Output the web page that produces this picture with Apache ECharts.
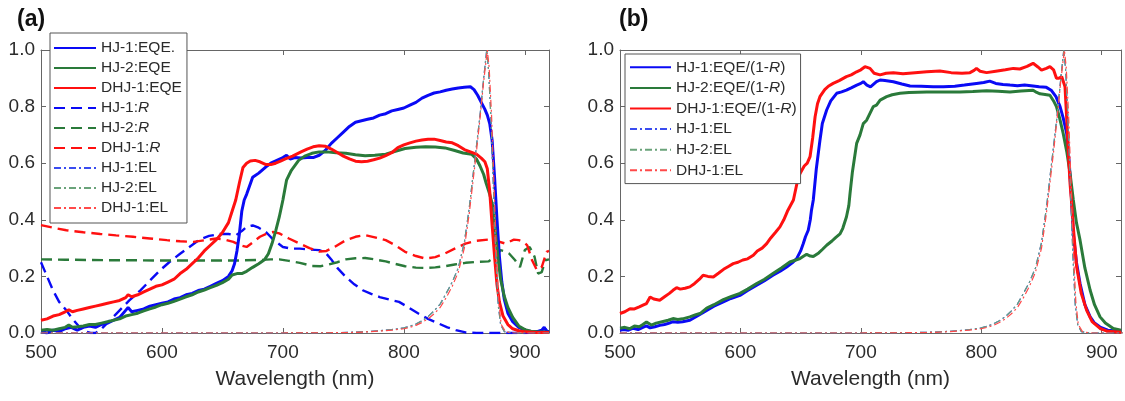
<!DOCTYPE html>
<html>
<head>
<meta charset="utf-8">
<script src="https://cdn.jsdelivr.net/npm/echarts@6/dist/echarts.min.js"></script>
<style>
html,body{margin:0;padding:0;background:#fff;}
#c{width:1125px;height:401px;}
</style>
</head>
<body>
<div id="c"></div>
<script>
// ---------- Tick labels ----------
const xTicks = [500, 600, 700, 800, 900];
const yTicks = [0.0, 0.2, 0.4, 0.6, 0.8, 1.0];

// ---------- Panel (a) ----------
const a_HJ1_EQE = [[500,0.005],[505,0.0],[510,0.01],[515,0.005],[520,0.015],[525,0.02],[530,0.01],[535,0.02],[540,0.025],[545,0.02],[550,0.03],[555,0.035],[560,0.045],[565,0.055],[570,0.08],[572,0.09],[575,0.075],[580,0.08],[585,0.085],[590,0.095],[595,0.10],[600,0.105],[605,0.11],[610,0.12],[615,0.125],[620,0.135],[625,0.14],[630,0.15],[635,0.155],[640,0.165],[645,0.175],[650,0.185],[655,0.20],[658,0.22],[660,0.245],[662,0.29],[664,0.35],[666,0.43],[668,0.47],[670,0.49],[675,0.55],[680,0.565],[686,0.587],[690,0.60],[695,0.61],[700,0.62],[703,0.628],[706,0.615],[710,0.62],[715,0.618],[720,0.62],[725,0.62],[730,0.628],[735,0.645],[740,0.67],[745,0.69],[750,0.71],[755,0.73],[760,0.745],[765,0.75],[770,0.755],[775,0.76],[780,0.77],[785,0.775],[790,0.785],[795,0.79],[800,0.795],[805,0.805],[810,0.815],[815,0.83],[820,0.84],[825,0.848],[830,0.852],[835,0.858],[840,0.862],[845,0.866],[850,0.868],[855,0.87],[858,0.86],[861,0.84],[864,0.815],[867,0.79],[869,0.77],[871,0.74],[873,0.68],[875,0.55],[877,0.40],[879,0.27],[881,0.18],[883,0.12],[886,0.07],[890,0.04],[895,0.02],[900,0.01],[905,0.005],[910,0.005],[914,0.01],[916,0.02],[918,0.005],[920,0.005]];
const a_HJ2_EQE = [[500,0.01],[505,0.012],[510,0.01],[515,0.015],[520,0.02],[523,0.028],[526,0.02],[530,0.022],[535,0.025],[540,0.03],[545,0.03],[550,0.035],[555,0.04],[560,0.045],[565,0.05],[570,0.06],[575,0.065],[580,0.07],[585,0.078],[590,0.085],[595,0.092],[600,0.10],[605,0.105],[610,0.112],[615,0.12],[620,0.128],[625,0.135],[630,0.145],[635,0.152],[640,0.16],[645,0.168],[650,0.178],[655,0.19],[658,0.205],[662,0.21],[666,0.21],[670,0.218],[675,0.232],[680,0.245],[685,0.26],[688,0.28],[691,0.316],[694,0.36],[697,0.41],[700,0.47],[703,0.54],[707,0.575],[713,0.61],[718,0.625],[724,0.635],[730,0.64],[736,0.64],[744,0.637],[752,0.635],[760,0.63],[768,0.626],[776,0.628],[785,0.632],[793,0.642],[801,0.652],[810,0.656],[818,0.658],[826,0.657],[834,0.654],[842,0.645],[849,0.636],[856,0.632],[860,0.615],[863,0.59],[866,0.56],[868,0.53],[871,0.49],[874,0.44],[876,0.34],[878,0.26],[880,0.19],[883,0.13],[886,0.09],[890,0.055],[895,0.025],[900,0.012],[905,0.006],[910,0.004],[920,0.003]];
const a_DHJ1_EQE = [[500,0.045],[505,0.05],[510,0.06],[515,0.065],[520,0.075],[523,0.082],[526,0.075],[530,0.08],[535,0.085],[540,0.09],[545,0.095],[550,0.10],[555,0.105],[560,0.11],[565,0.115],[570,0.125],[572,0.135],[575,0.128],[580,0.135],[585,0.145],[590,0.155],[595,0.165],[600,0.17],[605,0.18],[610,0.19],[615,0.21],[620,0.225],[625,0.245],[630,0.265],[635,0.29],[640,0.31],[645,0.33],[650,0.355],[655,0.39],[658,0.43],[661,0.47],[664,0.53],[667,0.585],[670,0.60],[673,0.608],[677,0.61],[681,0.605],[686,0.595],[690,0.595],[694,0.60],[698,0.607],[702,0.615],[708,0.625],[715,0.64],[720,0.65],[725,0.658],[730,0.662],[735,0.66],[740,0.65],[745,0.638],[750,0.625],[755,0.615],[760,0.607],[765,0.605],[770,0.607],[775,0.612],[780,0.618],[785,0.627],[790,0.637],[795,0.655],[800,0.665],[805,0.672],[810,0.678],[815,0.682],[820,0.685],[825,0.685],[830,0.68],[835,0.675],[840,0.672],[845,0.662],[850,0.648],[855,0.64],[860,0.632],[864,0.618],[867,0.605],[869,0.58],[871,0.50],[873,0.38],[875,0.27],[877,0.17],[879,0.11],[882,0.06],[886,0.03],[890,0.015],[895,0.008],[900,0.004],[910,0.002],[920,0.002]];
const a_HJ1_R = [[500,0.25],[505,0.2],[510,0.15],[515,0.11],[521,0.08],[526,0.05],[532,0.02],[537,0.005],[541,0.0],[545,0.0],[549,0.01],[557,0.045],[565,0.08],[573,0.115],[582,0.15],[590,0.185],[598,0.22],[606,0.25],[615,0.28],[623,0.305],[631,0.33],[639,0.343],[648,0.35],[655,0.35],[661,0.345],[666,0.36],[670,0.375],[675,0.38],[680,0.372],[686,0.357],[692,0.33],[700,0.304],[707,0.298],[714,0.298],[722,0.295],[730,0.293],[735,0.285],[740,0.26],[745,0.23],[752,0.198],[759,0.172],[766,0.151],[773,0.138],[780,0.127],[788,0.118],[796,0.11],[804,0.09],[812,0.069],[820,0.05],[829,0.033],[836,0.02],[843,0.01],[851,0.002],[860,0.0],[880,0.0],[900,0.0],[910,0.002],[914,0.01],[917,0.015],[920,0.0]];
const a_HJ2_R = [[500,0.26],[520,0.259],[540,0.258],[560,0.257],[580,0.257],[600,0.256],[620,0.256],[640,0.256],[660,0.256],[680,0.258],[690,0.26],[697,0.26],[705,0.255],[714,0.248],[724,0.237],[731,0.236],[738,0.242],[745,0.25],[752,0.26],[760,0.264],[768,0.265],[776,0.26],[785,0.253],[793,0.244],[801,0.236],[810,0.231],[818,0.23],[826,0.232],[834,0.236],[842,0.242],[851,0.248],[860,0.251],[870,0.253],[876,0.27],[880,0.293],[884,0.288],[887,0.281],[892,0.257],[896,0.233],[900,0.293],[904,0.304],[908,0.27],[911,0.21],[914,0.215],[917,0.257],[920,0.26]];
const a_DHJ1_R = [[500,0.381],[510,0.372],[521,0.363],[535,0.356],[549,0.35],[562,0.345],[576,0.34],[590,0.334],[604,0.328],[615,0.324],[626,0.322],[636,0.328],[645,0.334],[652,0.33],[659,0.322],[665,0.31],[670,0.304],[675,0.32],[681,0.34],[687,0.352],[692,0.357],[697,0.352],[705,0.334],[714,0.316],[722,0.3],[730,0.288],[736,0.29],[743,0.305],[752,0.328],[760,0.34],[768,0.346],[776,0.338],[785,0.328],[793,0.31],[801,0.287],[810,0.272],[818,0.263],[826,0.268],[834,0.281],[842,0.298],[851,0.316],[860,0.326],[870,0.33],[877,0.325],[884,0.316],[887,0.322],[891,0.33],[895,0.328],[899,0.322],[902,0.31],[906,0.257],[910,0.222],[914,0.233],[918,0.287],[920,0.29]];

// ---------- Electroluminescence (shared by both panels) ----------
const EL_HJ1 = [[500,0],[700,0],[740,0.001],[760,0.003],[770,0.005],[780,0.008],[790,0.012],[800,0.018],[805,0.024],[810,0.032],[815,0.043],[820,0.058],[825,0.078],[830,0.102],[835,0.14],[840,0.18],[845,0.23],[850,0.32],[854,0.44],[857,0.55],[860,0.66],[863,0.77],[866,0.9],[868.5,1.0],[870,0.93],[872,0.76],[874,0.52],[876,0.28],[878,0.1],[880,0.03],[883,0.005],[890,0],[920,0]];
const EL_HJ2 = [[500,0],[700,0],[740,0.001],[760,0.003],[770,0.005],[780,0.008],[790,0.012],[800,0.018],[805,0.024],[810,0.032],[815,0.043],[820,0.058],[825,0.078],[830,0.102],[835,0.14],[840,0.18],[845,0.23],[850,0.32],[854,0.44],[857,0.55],[860,0.66],[863,0.77],[866,0.9],[868.5,1.0],[870,0.93],[872,0.76],[874,0.52],[876,0.28],[878,0.1],[880,0.03],[883,0.005],[890,0],[920,0]];
const EL_DHJ1 = [[500,0],[700,0],[740,0.001],[760,0.002],[770,0.004],[780,0.007],[790,0.010],[800,0.015],[805,0.02],[810,0.027],[815,0.037],[820,0.05],[825,0.068],[830,0.09],[835,0.125],[840,0.165],[845,0.215],[850,0.3],[854,0.42],[857,0.53],[860,0.64],[863,0.76],[866,0.89],[869,1.0],[870.5,0.94],[872.5,0.77],[874.5,0.53],[876.5,0.29],[878.5,0.11],[880.5,0.03],[884,0.005],[890,0],[920,0]];

// ---------- Panel (b) ----------
const b_HJ1_EQE_R = [[500,0.01],[503,0.012],[507,0.01],[511,0.017],[515,0.012],[519,0.02],[522,0.025],[525,0.018],[529,0.022],[533,0.027],[537,0.03],[541,0.035],[544,0.04],[548,0.038],[552,0.04],[558,0.045],[562,0.055],[566,0.065],[572,0.08],[578,0.095],[585.8,0.11],[592,0.122],[599.6,0.133],[606,0.15],[613.5,0.169],[620,0.185],[627,0.204],[633,0.218],[638.4,0.233],[643,0.248],[646.7,0.263],[650,0.29],[652.2,0.316],[654,0.34],[656.3,0.363],[658,0.4],[659,0.434],[660.5,0.47],[663,0.58],[666,0.68],[668,0.74],[671.6,0.788],[675,0.82],[679.9,0.847],[684,0.852],[688,0.858],[692,0.866],[696.6,0.876],[700,0.882],[702,0.888],[705,0.876],[708,0.87],[713,0.888],[716,0.894],[720,0.892],[727,0.888],[734,0.88],[740.8,0.873],[750,0.872],[760,0.87],[768.5,0.87],[778,0.872],[786,0.876],[796,0.882],[802,0.885],[807,0.89],[812,0.882],[818,0.878],[823.8,0.876],[830,0.874],[836,0.876],[843,0.873],[848,0.87],[854,0.868],[858,0.858],[862,0.835],[865.4,0.8],[868,0.76],[870.9,0.705],[873,0.6],[875,0.47],[876.4,0.35],[879,0.25],[882,0.175],[886,0.1],[890.4,0.057],[894,0.035],[898.6,0.021],[905,0.01],[910,0.008],[916,0.005]];
const b_HJ2_EQE_R = [[500,0.017],[504,0.02],[508,0.015],[512,0.025],[516,0.022],[519,0.03],[522,0.039],[526,0.028],[530,0.035],[535,0.04],[540,0.045],[544,0.051],[548,0.048],[552,0.05],[558,0.057],[563,0.065],[567,0.07],[572,0.088],[578,0.1],[585.8,0.118],[592,0.128],[599.6,0.14],[606,0.155],[613.5,0.175],[620,0.19],[627,0.21],[634,0.23],[641,0.251],[646,0.258],[649.5,0.263],[652,0.27],[655,0.278],[658,0.272],[660.5,0.27],[665,0.283],[668,0.295],[671.6,0.31],[676,0.325],[679,0.337],[682.7,0.35],[685,0.37],[688,0.41],[690,0.45],[691,0.493],[693,0.57],[696.5,0.67],[699.3,0.7],[702,0.74],[704.8,0.752],[710.3,0.8],[713,0.805],[716,0.823],[721.4,0.835],[726,0.842],[732.5,0.847],[740,0.85],[754.7,0.852],[770,0.852],[782.3,0.852],[793,0.853],[804.4,0.856],[814,0.854],[823.8,0.852],[833,0.855],[843,0.858],[846,0.85],[848.7,0.845],[853,0.843],[857,0.84],[860,0.82],[862.4,0.8],[865,0.76],[868,0.705],[871,0.64],[873.7,0.564],[876.4,0.47],[879,0.39],[882,0.328],[886,0.23],[890.4,0.151],[894,0.1],[898.6,0.057],[903,0.035],[909.6,0.016],[916,0.01]];
const b_DHJ1_EQE_R = [[500,0.069],[504,0.075],[508.3,0.086],[512,0.085],[516,0.092],[520,0.1],[522,0.104],[525,0.127],[528,0.12],[533,0.116],[537,0.128],[541,0.14],[544,0.151],[547,0.16],[550,0.155],[554,0.158],[558,0.163],[562,0.175],[566,0.19],[569,0.204],[573,0.2],[577.5,0.198],[582,0.212],[586,0.225],[590,0.235],[594,0.245],[598,0.25],[602,0.258],[606,0.262],[610.7,0.275],[614,0.29],[618,0.3],[621.8,0.316],[625,0.335],[629,0.355],[632.8,0.375],[636,0.4],[639,0.43],[641,0.446],[644,0.47],[647,0.53],[649.5,0.564],[653,0.59],[655.5,0.6],[657.8,0.623],[660,0.69],[662,0.764],[664,0.81],[666,0.835],[670,0.86],[673,0.872],[677,0.882],[682,0.892],[688,0.906],[692,0.912],[696.5,0.923],[700,0.93],[703.4,0.941],[707.6,0.935],[711,0.918],[716,0.912],[721,0.918],[727,0.92],[735,0.916],[745,0.92],[754.7,0.923],[765.6,0.926],[775,0.92],[784,0.918],[790.6,0.92],[794,0.928],[796,0.935],[799,0.925],[804.4,0.92],[812,0.925],[820,0.93],[826.6,0.935],[832,0.933],[838,0.942],[843,0.953],[847,0.94],[850,0.929],[854,0.935],[857,0.941],[860,0.93],[862.4,0.9],[864.5,0.9],[866.8,0.906],[868,0.9],[869.5,0.87],[871,0.75],[872.5,0.62],[873.7,0.528],[874.8,0.47],[876.4,0.375],[879.2,0.233],[883,0.14],[887.5,0.08],[892,0.04],[898.6,0.016],[905,0.006],[916,0.003]];

// ---------- Styles ----------
const BLUE = '#0a0af5', GREEN = '#2a7a3a', RED = '#ff1010';
const BLUE_L = '#3a4cf0', GREEN_L = '#6aa37a', RED_L = '#ff4a4a';

function solid(name, data, color, g) {
  return {name, type:'line', data, xAxisIndex:g, yAxisIndex:g, symbol:'none', showSymbol:false,
    lineStyle:{color, width:3}, itemStyle:{color}, z:3, clip:true};
}
function dashed(name, data, color, g) {
  return {name, type:'line', data, xAxisIndex:g, yAxisIndex:g, symbol:'none', showSymbol:false,
    lineStyle:{color, width:2.4, type:[11,6]}, itemStyle:{color}, z:2, clip:true};
}
function dashdot(name, data, color, g) {
  return {name, type:'line', data, xAxisIndex:g, yAxisIndex:g, symbol:'none', showSymbol:false,
    lineStyle:{color, width:1.2, type:[7,3,2,3]}, itemStyle:{color}, z:4, clip:true};
}

const AX = '#666', TXT = '#2b2b2b';
function xAx(g, max, pos) {
  const bottom = pos === 'bottom';
  return {type:'value', gridIndex:g, position:pos, min:500, max, interval:100,
    axisLine:{show:true, onZero:false, lineStyle:{color:AX, width:1}},
    axisTick:{show:true, inside:true, length:5, lineStyle:{color:AX}},
    axisLabel:{show:bottom, fontSize:19, color:TXT, margin:10, fontFamily:'Liberation Sans, Arial',
      formatter: v => xTicks.includes(v) ? String(v) : ''},
    splitLine:{show:false},
    name: bottom ? 'Wavelength (nm)' : '', nameLocation:'middle', nameGap:36,
    nameTextStyle:{fontSize:21, color:TXT, fontFamily:'Liberation Sans, Arial'}};
}
function yAx(g, pos) {
  const left = pos === 'left';
  return {type:'value', gridIndex:g, position:pos, min:0, max:1, interval:0.2,
    axisLine:{show:true, onZero:false, lineStyle:{color:AX, width:1}},
    axisTick:{show:true, inside:true, length:5, lineStyle:{color:AX}},
    axisLabel:{show:left, fontSize:19, color:TXT, margin:6, fontFamily:'Liberation Sans, Arial',
      formatter: v => yTicks.some(t => Math.abs(t - v) < 1e-6) ? v.toFixed(1) : ''},
    splitLine:{show:false}};
}

const rich = {
  n:{fontSize:15.5, color:TXT, fontFamily:'Liberation Sans, Arial'},
  i:{fontSize:15.5, color:TXT, fontStyle:'italic', fontFamily:'Liberation Sans, Arial'}
};
function fmt(name) {
  if (name.indexOf('EQE/(1-R)') >= 0) {
    const p = name.split('R)');
    return '{n|' + p[0] + '}{i|R}{n|)}';
  }
  if (/:R$/.test(name)) return '{n|' + name.slice(0, -1) + '}{i|R}';
  return '{n|' + name + '}';
}

const legA = ['HJ-1:EQE.','HJ-2:EQE','DHJ-1:EQE','HJ-1:R','HJ-2:R','DHJ-1:R','HJ-1:EL','HJ-2:EL','DHJ-1:EL'];
const legB = ['HJ-1:EQE/(1-R)','HJ-2:EQE/(1-R)','DHJ-1:EQE/(1-R)','HJ-1:EL ','HJ-2:EL ','DHJ-1:EL '];

const chart = echarts.init(document.getElementById('c'), null, {renderer:'canvas'});
chart.setOption({
  animation:false,
  backgroundColor:'#fff',
  title:[
    {text:'(a)', left:12, top:3, textStyle:{fontSize:23, fontWeight:'bold', color:'#111', fontFamily:'Liberation Sans, Arial'}},
    {text:'(b)', left:614, top:3, textStyle:{fontSize:23, fontWeight:'bold', color:'#111', fontFamily:'Liberation Sans, Arial'}}
  ],
  grid:[
    {left:41, top:50, width:508, height:283, containLabel:false},
    {left:620, top:50, width:501, height:283, containLabel:false}
  ],
  xAxis:[xAx(0,920,'bottom'), xAx(1,916,'bottom'), xAx(0,920,'top'), xAx(1,916,'top')],
  yAxis:[yAx(0,'left'), yAx(1,'left'), yAx(0,'right'), yAx(1,'right')],
  legend:[
    {data:legA, orient:'vertical', left:50, top:33, itemWidth:42, itemHeight:10, itemGap:0,
     padding:[5,5,5,3], borderColor:'#555', borderWidth:1, backgroundColor:'#fff', borderRadius:0,
     itemStyle:{opacity:0}, textStyle:{lineHeight:20, rich}, formatter:fmt, selectedMode:false, z:10},
    {data:legB, orient:'vertical', left:625, top:54, itemWidth:41, itemHeight:10, itemGap:0,
     padding:[3,4,3,4], borderColor:'#555', borderWidth:1, backgroundColor:'#fff', borderRadius:0,
     itemStyle:{opacity:0}, textStyle:{lineHeight:20.6, rich}, formatter:fmt, selectedMode:false, z:10}
  ],
  series:[
    solid('HJ-1:EQE.', a_HJ1_EQE, BLUE, 0),
    solid('HJ-2:EQE', a_HJ2_EQE, GREEN, 0),
    solid('DHJ-1:EQE', a_DHJ1_EQE, RED, 0),
    dashed('HJ-1:R', a_HJ1_R, BLUE, 0),
    dashed('HJ-2:R', a_HJ2_R, GREEN, 0),
    dashed('DHJ-1:R', a_DHJ1_R, RED, 0),
    dashdot('HJ-1:EL', EL_HJ1, BLUE_L, 0),
    dashdot('HJ-2:EL', EL_HJ2, GREEN_L, 0),
    dashdot('DHJ-1:EL', EL_DHJ1, RED_L, 0),
    solid('HJ-1:EQE/(1-R)', b_HJ1_EQE_R, BLUE, 1),
    solid('HJ-2:EQE/(1-R)', b_HJ2_EQE_R, GREEN, 1),
    solid('DHJ-1:EQE/(1-R)', b_DHJ1_EQE_R, RED, 1),
    dashdot('HJ-1:EL ', EL_HJ1, BLUE_L, 1),
    dashdot('HJ-2:EL ', EL_HJ2, GREEN_L, 1),
    dashdot('DHJ-1:EL ', EL_DHJ1, RED_L, 1)
  ]
});
</script>
</body>
</html>
